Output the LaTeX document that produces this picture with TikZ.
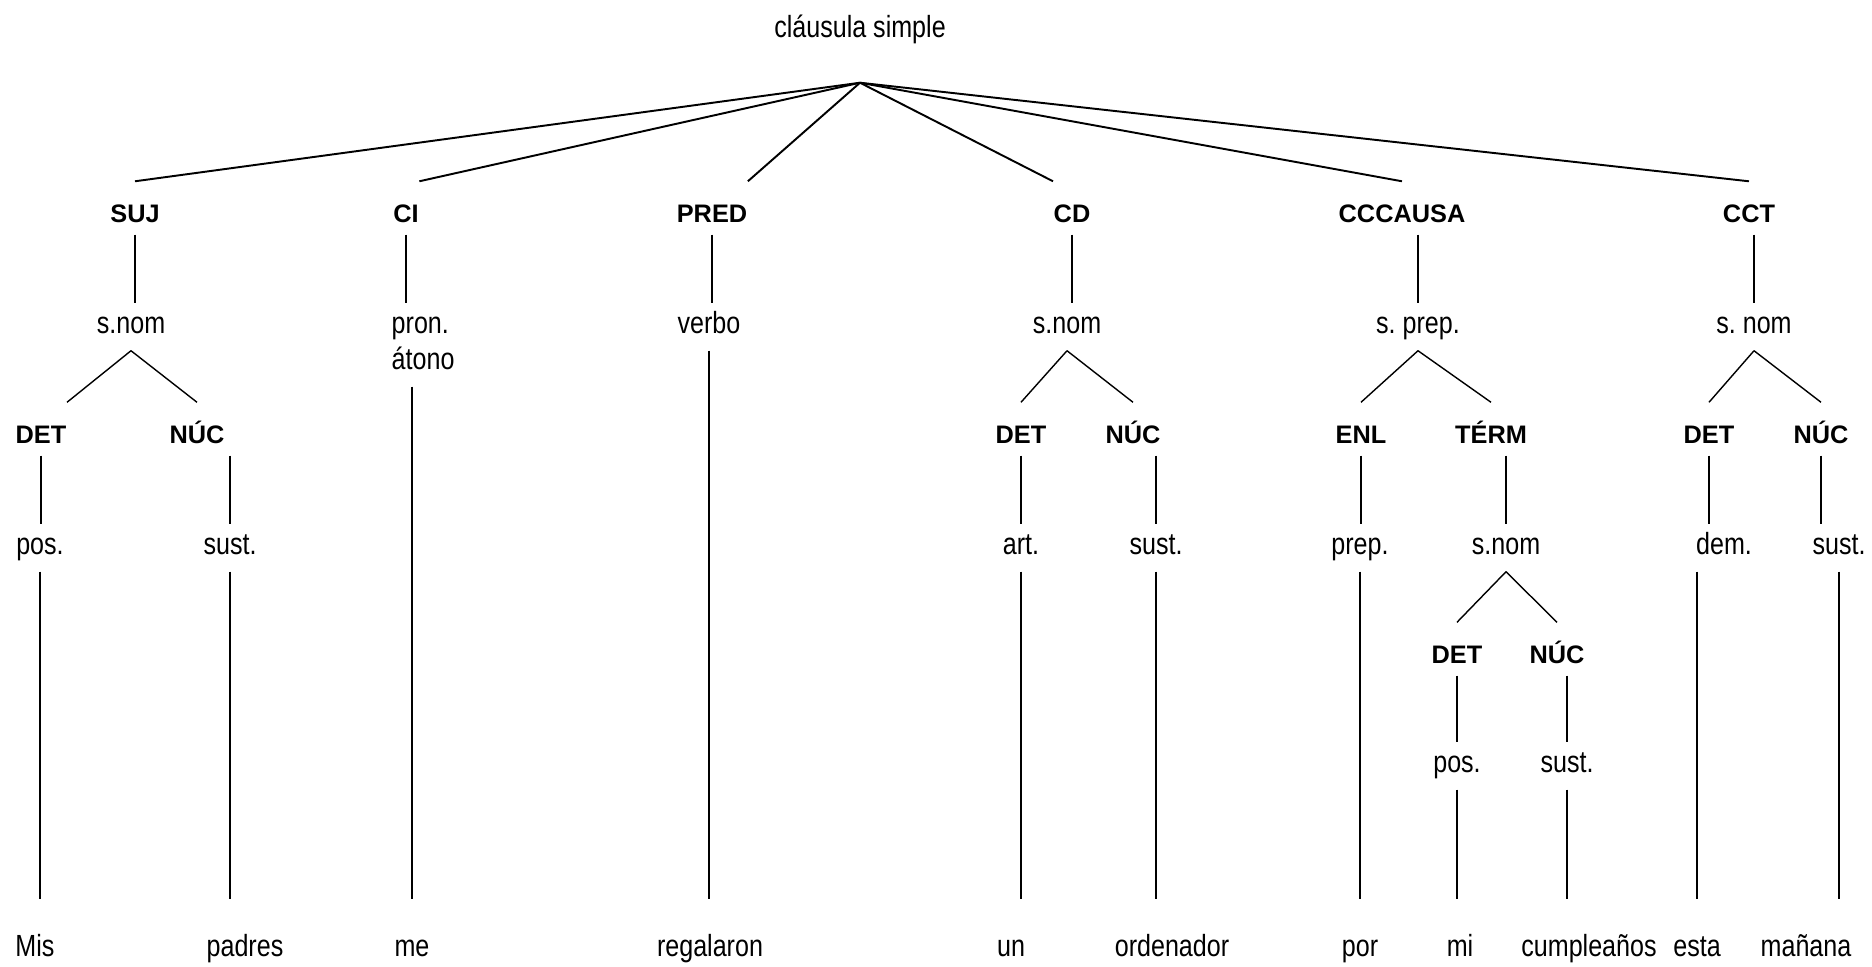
\documentclass[tikz,border=0pt]{standalone}
\usepackage{fontspec}
\setmainfont{Liberation Sans}
\newfontfamily\narrowfont{Liberation Sans}[FakeStretch=0.82]
\usepackage{tikz}
\newcommand{\fnfont}{\fontsize{7.2}{9}\selectfont\bfseries}
\newcommand{\catfont}{\narrowfont\fontsize{8.7}{10}\selectfont\frenchspacing}
\tikzset{
  fn/.style={font=\fnfont, anchor=base, inner sep=0pt,
    text height=0.40cm, text depth=0.12cm},
  cat/.style={font=\catfont, anchor=base, inner sep=0pt,
    text height=0.29cm, text depth=0.17cm},
  leaf/.style={font=\catfont, anchor=base, inner sep=0pt,
    text height=0.56cm, text depth=0.07cm},
  rootline/.style={line width=0.55pt, color=black},
  edge/.style={line width=0.4pt, color=black}
}

\begin{document}
\begin{tikzpicture}[x=0.01cm, y=-0.01cm]
  \useasboundingbox (0,0) rectangle (1872,966);

  % Clause and its functions
  \node[cat, text depth=0.45cm] (clausula) at (860,37) {cláusula simple};
  \node[fn] (suj)     at (135,222)  {SUJ};
  \node[fn] (ci)      at (406,222)  {CI};
  \node[fn] (pred)    at (712,222)  {PRED};
  \node[fn] (cd)      at (1072,222) {CD};
  \node[fn] (cccausa) at (1402,222) {CCCAUSA};
  \node[fn] (cct)     at (1749,222) {CCT};
  \draw[rootline] (clausula.south) -- (suj.north);
  \draw[rootline] (clausula.south) -- (ci.north east);
  \draw[rootline] (clausula.south) -- (pred.north east);
  \draw[rootline] (clausula.south) -- (cd.north west);
  \draw[rootline] (clausula.south) -- (cccausa.north);
  \draw[rootline] (clausula.south) -- (cct.north);

  % SUJ
  \node[cat]  (snomA)  at (131,333) {s.nom};
  \node[fn]   (detA)   at (41,443)  {DET};
  \node[fn]   (nucA)   at (197,443) {NÚC};
  \node[cat]  (posA)   at (40,554)  {pos.};
  \node[cat]  (sustA)  at (230,554) {sust.};
  \node[leaf] (mis)    at (35,956)  {Mis};
  \node[leaf] (padres) at (245,956) {padres};
  \draw[edge] (suj.south) -- (suj.south |- snomA.north);
  \draw[edge] (snomA.south) -- (detA.north east);
  \draw[edge] (snomA.south) -- (nucA.north);
  \draw[edge] (detA.south) -- (detA.south |- posA.north);
  \draw[edge] (posA.south) -- (posA.south |- mis.north);
  \draw[edge] (sustA.north |- nucA.south) -- (sustA.north);
  \draw[edge] (sustA.south) -- (sustA.south |- padres.north);

  % CI
  \node[cat, anchor=base west] (pron)  at (391,333) {pron.};
  \node[cat, anchor=base west] (atono) at (391,369) {átono};
  \node[leaf] (me) at (412,956) {me};
  \draw[edge] (ci.south) -- (ci.south |- pron.north);
  \draw[edge] (me.north |- atono.south) -- (me.north);

  % PRED
  \node[cat]  (verbo)     at (709,333) {verbo};
  \node[leaf] (regalaron) at (710,956) {regalaron};
  \draw[edge] (pred.south) -- (pred.south |- verbo.north);
  \draw[edge] (verbo.south) -- (verbo.south |- regalaron.north);

  % CD
  \node[cat]  (snomB)     at (1067,333) {s.nom};
  \node[fn]   (detB)      at (1021,443) {DET};
  \node[fn]   (nucB)      at (1133,443) {NÚC};
  \node[cat]  (art)       at (1021,554) {art.};
  \node[cat]  (sustB)     at (1156,554) {sust.};
  \node[leaf] (un)        at (1011,956) {un};
  \node[leaf] (ordenador) at (1172,956) {ordenador};
  \draw[edge] (cd.south) -- (cd.south |- snomB.north);
  \draw[edge] (snomB.south) -- (detB.north);
  \draw[edge] (snomB.south) -- (nucB.north);
  \draw[edge] (detB.south) -- (detB.south |- art.north);
  \draw[edge] (art.south) -- (art.south |- un.north);
  \draw[edge] (sustB.north |- nucB.south) -- (sustB.north);
  \draw[edge] (sustB.south) -- (sustB.south |- ordenador.north);

  % CCCAUSA
  \node[cat]  (sprep)      at (1418,333) {s. prep.};
  \node[fn]   (enl)        at (1361,443) {ENL};
  \node[fn]   (term)       at (1491,443) {TÉRM};
  \node[cat]  (prep)       at (1360,554) {prep.};
  \node[cat]  (snomD)      at (1506,554) {s.nom};
  \node[fn]   (detD)       at (1457,663) {DET};
  \node[fn]   (nucD)       at (1557,663) {NÚC};
  \node[cat]  (posB)       at (1457,772) {pos.};
  \node[cat]  (sustD)      at (1567,772) {sust.};
  \node[leaf] (por)        at (1360,956) {por};
  \node[leaf] (mi)         at (1460,956) {mi};
  \node[leaf] (cumpleanos) at (1589,956) {cumpleaños};
  \draw[edge] (sprep.north |- cccausa.south) -- (sprep.north);
  \draw[edge] (sprep.south) -- (enl.north);
  \draw[edge] (sprep.south) -- (term.north);
  \draw[edge] (enl.south) -- (enl.south |- prep.north);
  \draw[edge] (prep.south) -- (prep.south |- por.north);
  \draw[edge] (snomD.north |- term.south) -- (snomD.north);
  \draw[edge] (snomD.south) -- (detD.north);
  \draw[edge] (snomD.south) -- (nucD.north);
  \draw[edge] (detD.south) -- (detD.south |- posB.north);
  \draw[edge] (posB.south) -- (posB.south |- mi.north);
  \draw[edge] (sustD.north |- nucD.south) -- (sustD.north);
  \draw[edge] (sustD.south) -- (sustD.south |- cumpleanos.north);

  % CCT
  \node[cat]  (snomC)  at (1754,333) {s. nom};
  \node[fn]   (detC)   at (1709,443) {DET};
  \node[fn]   (nucC)   at (1821,443) {NÚC};
  \node[cat]  (dem)    at (1724,554) {dem.};
  \node[cat]  (sustC)  at (1839,554) {sust.};
  \node[leaf] (esta)   at (1697,956) {esta};
  \node[leaf] (manana) at (1806,956) {mañana};
  \draw[edge] (snomC.north |- cct.south) -- (snomC.north);
  \draw[edge] (snomC.south) -- (detC.north);
  \draw[edge] (snomC.south) -- (nucC.north);
  \draw[edge] (detC.south) -- (detC.south |- dem.north);
  \draw[edge] (esta.north |- dem.south) -- (esta.north);
  \draw[edge] (nucC.south) -- (nucC.south |- sustC.north);
  \draw[edge] (sustC.south) -- (sustC.south |- manana.north);
\end{tikzpicture}
\end{document}
